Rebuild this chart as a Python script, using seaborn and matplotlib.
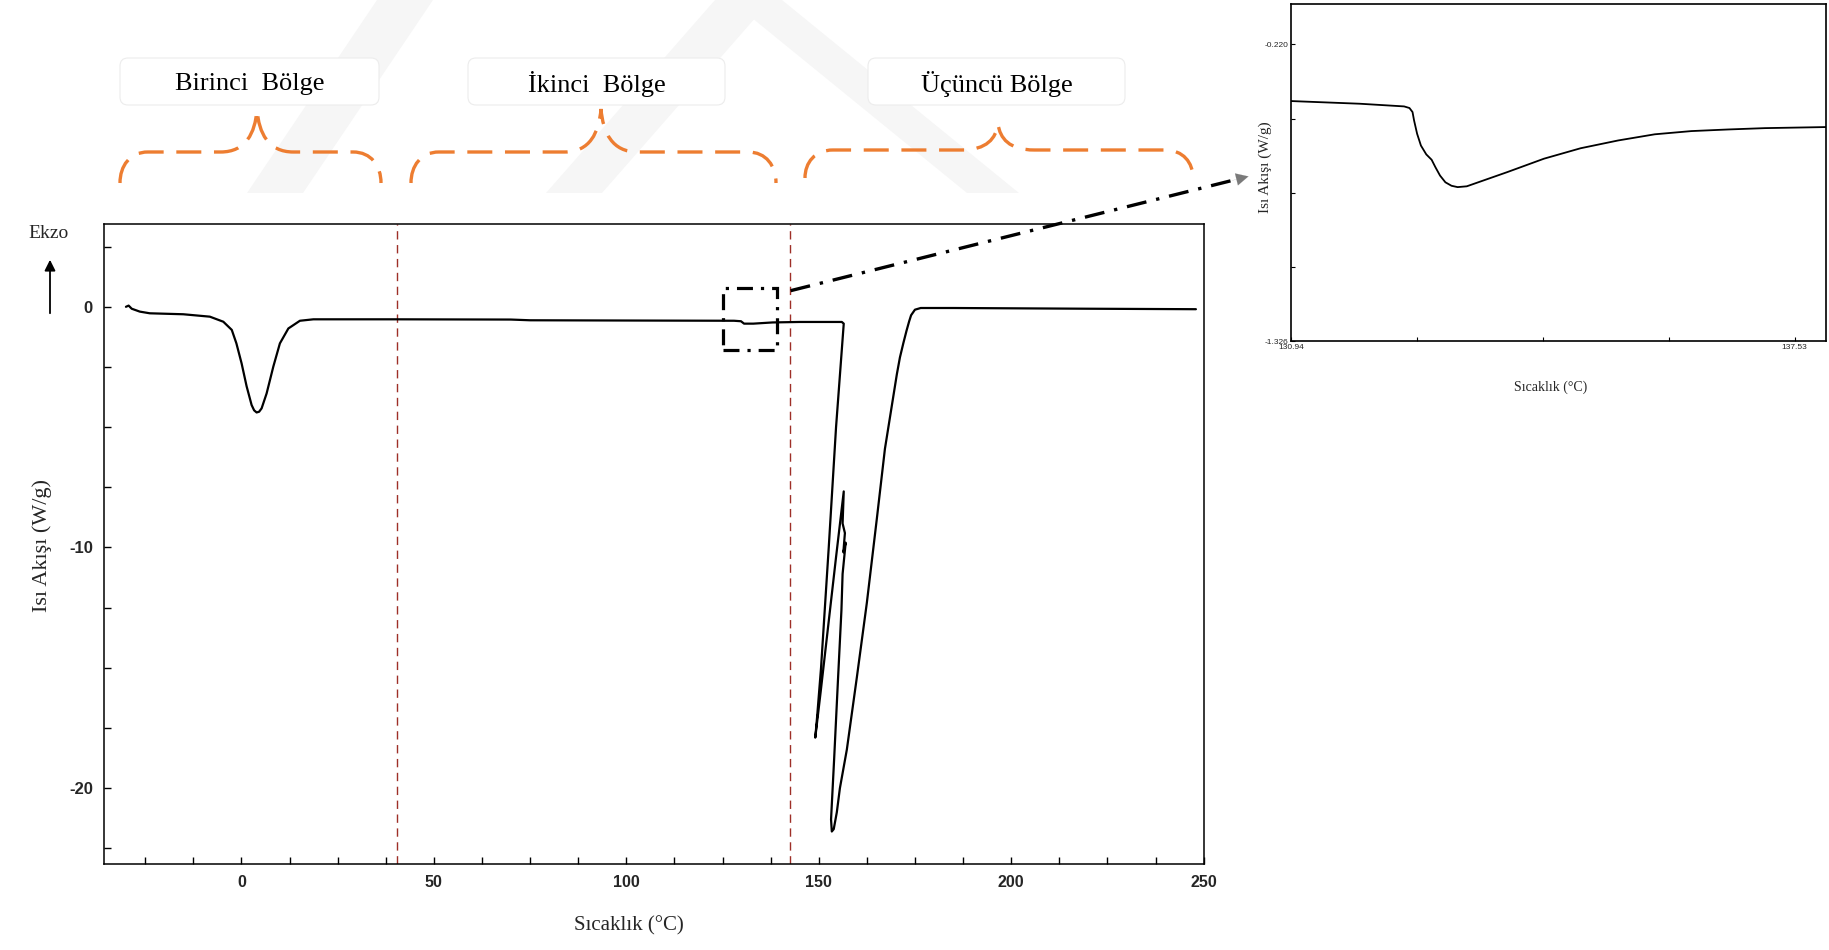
import numpy as np
import pandas as pd
import matplotlib
matplotlib.use("Agg")
import matplotlib.pyplot as plt
import seaborn as sns
from matplotlib.path import Path
from matplotlib.patches import PathPatch, FancyBboxPatch, Rectangle, Polygon
from matplotlib.ticker import MultipleLocator, FixedLocator

# ---------------- data ----------------
temp_main = [-30.0, -29.3, -28.5, -26.4, -23.8, -15.1, -8.2, -4.7, -2.5, -1.3, 0.05, 1.35, 2.65, 3.3,
             3.95, 4.6, 5.25, 6.55, 8.3, 10.0, 12.2, 15.2, 18.7, 23.8, 40.0, 70.0, 75.0, 100.0, 128.0,
             129.8, 130.6, 133.0, 138.0, 145.0, 156.0, 156.5, 154.5, 152.6, 150.6, 149.6, 149.1,
             150.5, 152.5, 154.5, 156.5, 156.2, 156.8, 156.4, 157.0, 156.2, 155.9, 155.0, 154.0,
             153.2, 153.4, 153.9, 154.7, 155.5, 157.3, 159.9, 162.5, 165.1, 167.2, 168.4, 169.4,
             170.3, 171.1, 172.0, 172.8, 173.5, 174.0, 175.0, 176.5, 185.0, 220.0, 248.0]
heat_main = [0.0, 0.05, -0.08, -0.2, -0.27, -0.31, -0.41, -0.62, -0.96, -1.52, -2.35, -3.3, -4.08, -4.3,
             -4.39, -4.36, -4.22, -3.6, -2.48, -1.52, -0.9, -0.58, -0.52, -0.52, -0.52, -0.53, -0.56,
             -0.57, -0.58, -0.6, -0.7, -0.7, -0.65, -0.63, -0.63, -0.7, -5.0, -10.0, -15.0, -17.0,
             -17.9, -16.0, -13.2, -10.4, -7.67, -9.0, -9.4, -10.2, -9.8, -11.1, -12.6, -15.5, -18.8,
             -21.3, -21.8, -21.7, -21.0, -20.0, -18.4, -15.4, -12.3, -8.8, -5.9, -4.7, -3.7,
             -2.8, -2.1, -1.5, -1.0, -0.6, -0.35, -0.12, -0.05, -0.05, -0.08, -0.1]

temp_inset = [130.94, 131.84, 132.42, 132.49, 132.53, 132.55, 132.59, 132.64, 132.71, 132.78, 132.83,
              132.89, 132.96, 133.04, 133.12, 133.24, 133.77, 134.25, 134.73, 135.22, 135.70, 136.18,
              136.66, 137.14, 137.94]
heat_inset = [-0.431, -0.441, -0.451, -0.457, -0.472, -0.503, -0.553, -0.597, -0.630, -0.650, -0.678,
              -0.709, -0.734, -0.747, -0.752, -0.749, -0.696, -0.646, -0.607, -0.578, -0.555, -0.543,
              -0.537, -0.532, -0.528]

region_labels = ["Birinci  Bölge", "İkinci  Bölge", "Üçüncü Bölge"]
region_boundaries = [40.3, 142.5]
main_xticks = [0, 50, 100, 150, 200, 250]
main_yticks = [0, -10, -20]
inset_xticks = [130.94, 137.53]
inset_xtick_labels = ["130.94", "137.53"]
inset_yticks = [-0.220, -1.326]
inset_ytick_labels = ["-0.220", "-1.326"]
zoom_box_x = [125.0, 139.2]
zoom_box_y = [-1.79, 0.77]

df_main = pd.DataFrame({"temp": temp_main, "heat": heat_main})
df_inset = pd.DataFrame({"temp": temp_inset, "heat": heat_inset})

# ---------------- style ----------------
sns.set_theme(style="white")
plt.rcParams["font.family"] = ["Liberation Serif", "DejaVu Serif"]
plt.rcParams["axes.unicode_minus"] = False
SANS = ["Liberation Sans Narrow", "Liberation Sans", "DejaVu Sans"]
SERIF = ["Liberation Serif", "DejaVu Serif"]
ORANGE = "#ED7D31"

W, H = 1829, 950
fig = plt.figure(figsize=(W / 100, H / 100), dpi=100)
fig.patch.set_facecolor("white")

# ---------------- background watermark (faint) ----------------
bg = fig.add_axes([0, 0, 1, 1], zorder=-5)
bg.set_xlim(0, W)
bg.set_ylim(H, 0)
bg.axis("off")
for poly in ([(247, 193), (303, 193), (433, 0), (377, 0)],
             [(546, 193), (602, 193), (771, 0), (715, 0)],
             [(967, 193), (1019, 193), (782, 0), (730, 0)]):
    bg.add_patch(Polygon(poly, closed=True, facecolor="#f6f6f6", edgecolor="none"))

# ---------------- main axes ----------------
ax = fig.add_axes([104 / W, (H - 864) / H, 1100 / W, 640 / H])
ax.set_facecolor("white")
sns.lineplot(data=df_main, x="temp", y="heat", sort=False, estimator=None,
             color="black", linewidth=1.6, ax=ax)
ax.set_xlim(-35.7, 250.1)
ax.set_ylim(-23.15, 3.44)
for xb in region_boundaries:
    ax.axvline(xb, color="#9e2f28", linewidth=1.0, linestyle=(0, (6, 4)), zorder=1)

ax.add_patch(Rectangle((zoom_box_x[0], zoom_box_y[0]), zoom_box_x[1] - zoom_box_x[0],
                       zoom_box_y[1] - zoom_box_y[0], fill=False, edgecolor="black",
                       linewidth=2.3, linestyle=(0, (5, 2.5, 1, 2.5)), zorder=5))

ax.xaxis.set_major_locator(FixedLocator(main_xticks))
ax.xaxis.set_minor_locator(MultipleLocator(12.5))
ax.yaxis.set_major_locator(FixedLocator(main_yticks))
ax.yaxis.set_minor_locator(MultipleLocator(2.5))
ax.tick_params(axis="both", which="both", direction="in", length=5, width=1.0,
               color="black", left=True, bottom=True)
ax.tick_params(axis="x", which="major", pad=8)
ax.tick_params(axis="y", which="major", pad=8)
for lab in ax.get_xticklabels():
    lab.set_fontfamily(SANS); lab.set_fontsize(11.5); lab.set_fontweight("bold")
for lab in ax.get_yticklabels():
    lab.set_fontfamily(SANS); lab.set_fontsize(12); lab.set_fontweight("bold")
for sp in ax.spines.values():
    sp.set_color("black"); sp.set_linewidth(1.1)

ax.set_xlabel("Sıcaklık (°C)", fontfamily=SERIF, fontsize=15)
ax.set_ylabel("Isı Akışı (W/g)", fontfamily=SERIF, fontsize=16)
ax.xaxis.set_label_coords(0.477, -0.097)
ax.xaxis.label.set_va("center")
ax.yaxis.set_label_coords(-0.056, 0.497)
ax.yaxis.label.set_va("center")

# ---------------- inset axes ----------------
axi = fig.add_axes([1291 / W, (H - 341) / H, 535 / W, 337 / H])
axi.set_facecolor("white")
sns.lineplot(data=df_inset, x="temp", y="heat", sort=False, estimator=None,
             color="black", linewidth=1.3, ax=axi)
axi.set_xlim(130.94, 137.94)
axi.set_ylim(-1.326, -0.069)
axi.set_xticks(inset_xticks, inset_xtick_labels)
axi.set_yticks(inset_yticks, inset_ytick_labels)
axi.xaxis.set_minor_locator(FixedLocator(list(np.linspace(inset_xticks[0], inset_xticks[1], 5))))
axi.yaxis.set_minor_locator(FixedLocator(list(np.linspace(inset_yticks[0], inset_yticks[1], 5))))
axi.tick_params(axis="both", which="both", direction="in", length=3, width=0.8,
                color="black", left=True, bottom=True, labelsize=6, pad=2)
for lab in axi.get_xticklabels() + axi.get_yticklabels():
    lab.set_fontfamily(SANS)
for sp in axi.spines.values():
    sp.set_color("black"); sp.set_linewidth(1.2)
axi.set_xlabel("Sıcaklık (°C)", fontfamily=SERIF, fontsize=10)
axi.set_ylabel("Isı Akışı (W/g)", fontfamily=SERIF, fontsize=11)
axi.xaxis.set_label_coords(0.486, -0.1365)
axi.xaxis.label.set_va("center")
axi.yaxis.set_label_coords(-0.0486, 0.516)
axi.yaxis.label.set_va("center")

# ---------------- overlay (pixel coordinates, y down) ----------------
ov = fig.add_axes([0, 0, 1, 1], zorder=10)
ov.set_xlim(0, W)
ov.set_ylim(H, 0)
ov.axis("off")


def brace(x0, x1, xc, yb, yh, ytip, r=28):
    verts = [(x0, yb),
             (x0, yb - (yb - yh) * 0.55), (x0 + r * 0.35, yh), (x0 + r, yh),
             (xc - r * 1.3, yh),
             (xc - r * 0.4, yh), (xc - 2, yh - (yh - ytip) * 0.45), (xc, ytip),
             (xc + 2, yh - (yh - ytip) * 0.45), (xc + r * 0.4, yh), (xc + r * 1.3, yh),
             (x1 - r, yh),
             (x1 - r * 0.35, yh), (x1, yb - (yb - yh) * 0.55), (x1, yb)]
    codes = [Path.MOVETO, Path.CURVE4, Path.CURVE4, Path.CURVE4, Path.LINETO,
             Path.CURVE4, Path.CURVE4, Path.CURVE4, Path.CURVE4, Path.CURVE4, Path.CURVE4,
             Path.LINETO, Path.CURVE4, Path.CURVE4, Path.CURVE4]
    return Path(verts, codes)


braces = [(120, 381, 257, 183, 152, 110), (411, 776, 601, 183, 152, 109),
          (805, 1193, 998, 178, 150, 124)]
label_boxes = [(120, 379), (468, 725), (868, 1125)]
for (x0, x1, xc, yb, yh, yt), (bx0, bx1), text in zip(braces, label_boxes, region_labels):
    ov.add_patch(PathPatch(brace(x0, x1, xc, yb, yh, yt), facecolor="none", edgecolor=ORANGE,
                           linewidth=2.4, linestyle=(0, (7.5, 3.8)), capstyle="butt"))
    ov.add_patch(FancyBboxPatch((bx0, 58), bx1 - bx0, 47,
                                boxstyle="round,pad=0,rounding_size=8",
                                facecolor="white", edgecolor="#ececec", linewidth=0.8))
    ov.text((bx0 + bx1) / 2, 84, text, ha="center", va="center",
            fontfamily=SERIF, fontsize=19, color="black")

# Ekzo label with arrow
ov.text(49, 233, "Ekzo", ha="center", va="center", fontfamily=SERIF, fontsize=14)
ov.annotate("", xy=(50, 257), xytext=(50, 316),
            arrowprops=dict(arrowstyle="-|>", color="black", lw=1.3, mutation_scale=16))

# dash-dot connector from zoom box to inset
start_disp = ax.transData.transform((142.7, 0.67))
start = ov.transData.inverted().transform(start_disp)
end = np.array([1232.0, 180.5])
ov.plot([start[0], end[0]], [start[1], end[1]], color="black", linewidth=2.4,
        linestyle=(0, (6, 3, 1, 3)), solid_capstyle="butt")
direction = (end - start) / np.linalg.norm(end - start)
tip = end + direction * 17
ov.annotate("", xy=tuple(tip), xytext=tuple(end),
            arrowprops=dict(arrowstyle="-|>", color="#7a7a7a", lw=0.1, mutation_scale=22,
                            shrinkA=0, shrinkB=0))

fig.savefig("out.png", dpi=100, facecolor="white")
